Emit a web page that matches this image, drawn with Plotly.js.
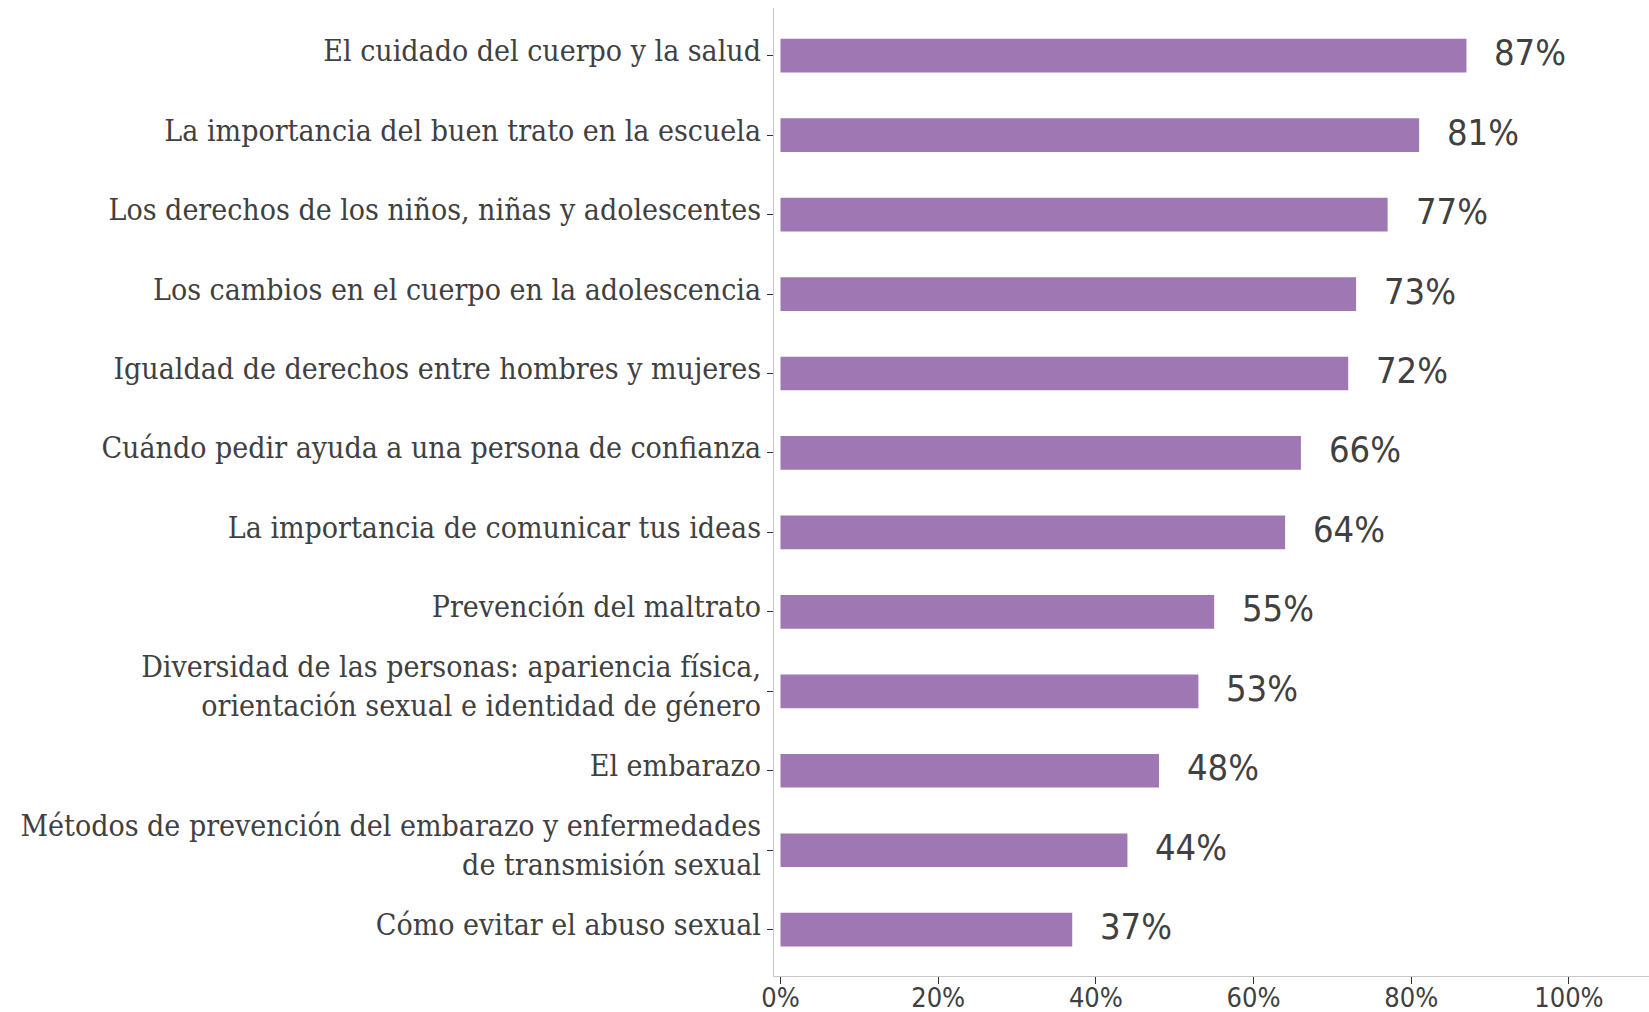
<!DOCTYPE html>
<html>
<head>
<meta charset="utf-8">
<script src="https://cdn.plot.ly/plotly-3.0.1.min.js"></script>
<style>
  html, body { margin: 0; padding: 0; background: #ffffff; }
  #chart { width: 1649px; height: 1012px; }
</style>
</head>
<body>
<div id="chart"></div>
<script>
// Categories, bottom to top
const categories = [
  "Cómo evitar el abuso sexual",
  "Métodos de prevención del embarazo y enfermedades<br>de transmisión sexual",
  "El embarazo",
  "Diversidad de las personas: apariencia física,<br>orientación sexual e identidad de género",
  "Prevención del maltrato",
  "La importancia de comunicar tus ideas",
  "Cuándo pedir ayuda a una persona de confianza",
  "Igualdad de derechos entre hombres y mujeres",
  "Los cambios en el cuerpo en la adolescencia",
  "Los derechos de los niños, niñas y adolescentes",
  "La importancia del buen trato en la escuela",
  "El cuidado del cuerpo y la salud"
];
const values = [37, 44, 48, 53, 55, 64, 66, 72, 73, 77, 81, 87];
const valueLabels = ["37%", "44%", "48%", "53%", "55%", "64%", "66%", "72%", "73%", "77%", "81%", "87%"];
const xTickValues = [0, 20, 40, 60, 80, 100];
const xTickLabels = ["0%", "20%", "40%", "60%", "80%", "100%"];

const labelFont = "'DejaVu Serif Condensed', 'DejaVu Serif', serif";
const numFont = "'Liberation Sans Narrow', 'DejaVu Sans Condensed', sans-serif";
const textColor = "#404040";

const trace = {
  type: "bar",
  orientation: "h",
  y: categories,
  x: values,
  marker: { color: "#9e77b3", line: { width: 0 } },
  hoverinfo: "skip",
  showlegend: false
};

const annotations = values.map((v, i) => ({
  x: v,
  y: categories[i],
  xref: "x",
  yref: "y",
  text: valueLabels[i],
  showarrow: false,
  xanchor: "center",
  yanchor: "middle",
  xshift: 64,
  yshift: 3,
  font: { family: numFont, size: 36, color: textColor }
}));

const layout = {
  width: 1649,
  height: 1012,
  paper_bgcolor: "#ffffff",
  plot_bgcolor: "#ffffff",
  margin: { l: 774, r: 0, t: 8, b: 36, pad: 0 },
  bargap: 0.576,
  showlegend: false,
  xaxis: {
    range: [-0.824, 110.15],
    tickvals: xTickValues,
    ticktext: xTickLabels,
    showgrid: false,
    zeroline: false,
    showline: true,
    linecolor: "#c8c8c8",
    linewidth: 1,
    ticks: "outside",
    ticklen: 7,
    tickwidth: 1,
    tickcolor: "#333333",
    ticklabelstandoff: -9,
    tickfont: { family: numFont, size: 27, color: textColor },
    fixedrange: true
  },
  yaxis: {
    type: "category",
    categoryorder: "array",
    categoryarray: categories,
    range: [-0.583, 11.6],
    showgrid: false,
    zeroline: false,
    showline: true,
    linecolor: "#c8c8c8",
    linewidth: 1,
    ticks: "outside",
    ticklen: 6,
    tickwidth: 1,
    tickcolor: "#333333",
    ticklabelshift: -5,
    tickfont: { family: labelFont, size: 30, color: textColor },
    fixedrange: true
  },
  annotations: annotations
};

Plotly.newPlot("chart", [trace], layout, { displayModeBar: false, staticPlot: true });
</script>
</body>
</html>
